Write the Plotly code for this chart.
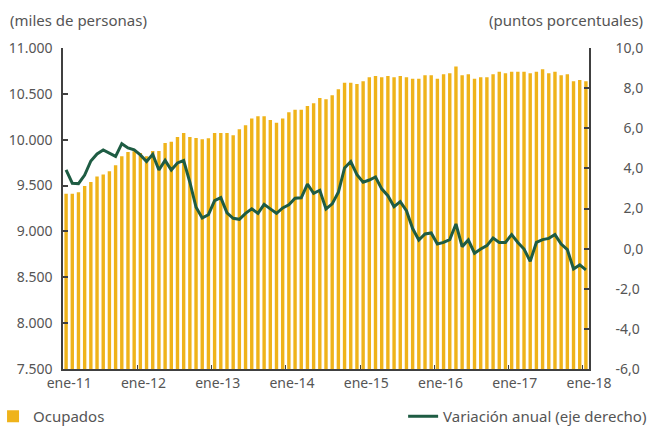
import plotly.graph_objects as go

# ---- data (monthly, ene-2011 .. ene-2018) ----
ocupados = [
    9412, 9412, 9427, 9496, 9539, 9598, 9620, 9656, 9721, 9819, 9866, 9873,
    9855, 9819, 9877, 9877, 9964, 9979, 10029, 10073, 10029, 10019, 10004, 10015,
    10073, 10073, 10073, 10048, 10113, 10157, 10230, 10255, 10255, 10215, 10186, 10230,
    10299, 10328, 10328, 10368, 10397, 10455, 10441, 10484, 10550, 10622, 10622, 10608,
    10637, 10681, 10695, 10681, 10695, 10681, 10695, 10681, 10666, 10666, 10702, 10702,
    10666, 10713, 10724, 10797, 10702, 10713, 10666, 10681, 10681, 10713, 10742, 10724,
    10742, 10742, 10742, 10724, 10742, 10768, 10724, 10742, 10702, 10713, 10637, 10651,
    10637,
]
variacion = [
    3.92, 3.26, 3.24, 3.67, 4.37, 4.72, 4.92, 4.75, 4.60, 5.23, 5.02, 4.92,
    4.67, 4.34, 4.70, 3.92, 4.40, 3.92, 4.27, 4.39, 3.31, 2.06, 1.53, 1.69,
    2.39, 2.54, 1.78, 1.51, 1.46, 1.76, 1.98, 1.76, 2.21, 1.98, 1.76, 2.03,
    2.18, 2.51, 2.53, 3.22, 2.76, 2.91, 1.98, 2.23, 2.81, 4.02, 4.34, 3.69,
    3.31, 3.42, 3.57, 2.98, 2.64, 2.09, 2.34, 1.89, 1.00, 0.43, 0.73, 0.78,
    0.23, 0.31, 0.45, 1.23, 0.10, 0.43, -0.23, -0.02, 0.15, 0.53, 0.31, 0.31,
    0.70, 0.31, -0.02, -0.63, 0.31, 0.45, 0.51, 0.70, 0.23, -0.05, -1.01, -0.81,
    -1.06,
]
x_idx = list(range(len(ocupados)))

year_labels = ["ene-11", "ene-12", "ene-13", "ene-14", "ene-15", "ene-16", "ene-17", "ene-18"]
left_vals = [7500, 8000, 8500, 9000, 9500, 10000, 10500, 11000]
left_text = ["7.500", "8.000", "8.500", "9.000", "9.500", "10.000", "10.500", "11.000"]
right_vals = [-6, -4, -2, 0, 2, 4, 6, 8, 10]
right_text = ["-6,0", "-4,0", "-2,0", "\u20070,0", "\u20072,0", "\u20074,0", "\u20076,0", "\u20078,0", "10,0"]

BAR = "#EFB31A"
LINE = "#1E5C43"
TXT = "#555555"
AX = "#404040"
FONT = "Noto Sans"

fig = go.Figure()
fig.add_trace(go.Bar(
    x=x_idx, y=ocupados, name="Ocupados", marker=dict(color=BAR, line=dict(width=0)),
    width=0.55, yaxis="y", legend="legend", showlegend=True,
))
fig.add_trace(go.Scatter(
    x=x_idx, y=variacion, name="Variación anual (eje derecho)", mode="lines",
    line=dict(color=LINE, width=3), yaxis="y2", legend="legend2", showlegend=True,
))

n = len(ocupados)
fig.update_layout(
    width=649, height=426,
    showlegend=True,
    margin=dict(l=63, r=60, t=48, b=57, autoexpand=False),
    paper_bgcolor="white", plot_bgcolor="white",
    font=dict(family=FONT, size=14, color=TXT),
    xaxis=dict(
        range=[-0.5, n - 0.5],
        tickvals=[12 * k + 0.5 for k in range(len(year_labels))],
        ticktext=year_labels, ticks="", showgrid=False, zeroline=False,
        showline=True, linecolor=AX, linewidth=1.5,
        minor=dict(tickvals=[12 * k - 0.5 for k in range(1, len(year_labels))],
                   ticks="inside", ticklen=4, tickcolor=AX, tickwidth=1, showgrid=False),
        tickfont=dict(size=14, color=TXT), automargin=False,
    ),
    yaxis=dict(
        range=[7500, 11000], tickvals=left_vals, ticktext=left_text,
        ticks="inside", ticklen=5, tickcolor=AX, tickwidth=1.5,
        showline=True, linecolor=AX, linewidth=1.5, showgrid=False, zeroline=False,
        ticklabelstandoff=6, tickfont=dict(size=14, color=TXT), automargin=False,
    ),
    yaxis2=dict(
        range=[-6, 10], tickvals=right_vals, ticktext=right_text, overlaying="y", side="right",
        ticks="inside", ticklen=5, tickcolor=AX, tickwidth=1.5,
        showline=True, linecolor=AX, linewidth=1.5, showgrid=False, zeroline=False,
        ticklabelstandoff=22, tickfont=dict(size=14, color=TXT), automargin=False,
    ),
    legend=dict(x=-0.133, y=-0.148, xanchor="left", yanchor="middle", orientation="h",
                font=dict(size=15, color=TXT), itemwidth=30, bgcolor="rgba(0,0,0,0)",
                visible=True),
    legend2=dict(x=1.12, y=-0.148, xanchor="right", yanchor="middle", orientation="h",
                 font=dict(size=15, color=TXT), itemwidth=30, bgcolor="rgba(0,0,0,0)",
                 visible=True),
    annotations=[
        dict(text="(miles de personas)", xref="paper", yref="paper", x=-0.1046, y=1.086,
             xanchor="left", yanchor="middle", showarrow=False, font=dict(size=15, color=TXT)),
        dict(text="(puntos porcentuales)", xref="paper", yref="paper", x=1.1065, y=1.086,
             xanchor="right", yanchor="middle", showarrow=False, font=dict(size=15, color=TXT)),
    ],
)

fig.write_html(
    "out.html",
    config={"displayModeBar": False},
    post_script="document.body.style.margin='0px';document.body.style.overflow='hidden';",
)
